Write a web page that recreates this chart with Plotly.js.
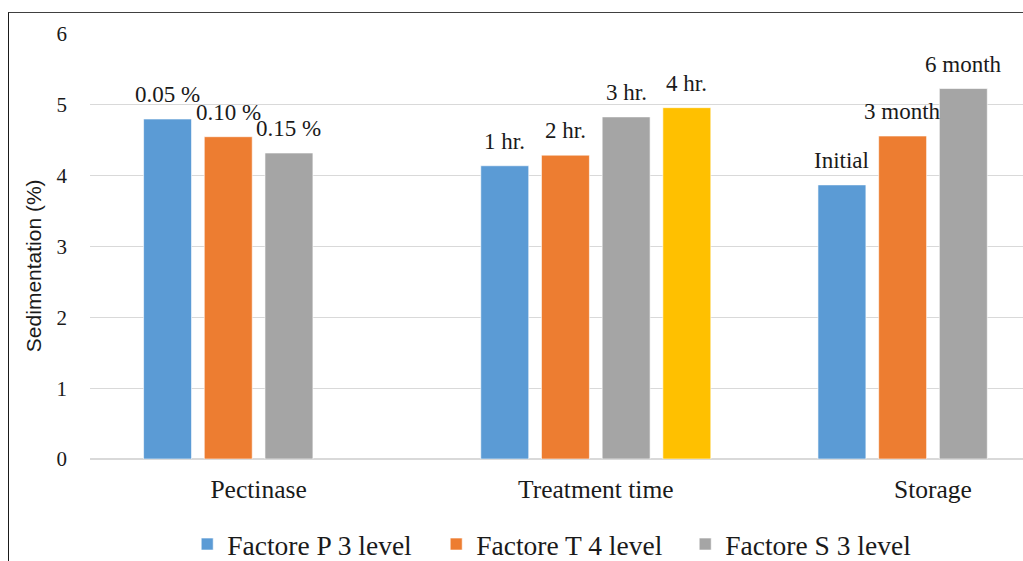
<!DOCTYPE html>
<html>
<head>
<meta charset="utf-8">
<script src="https://cdn.plot.ly/plotly-3.0.1.min.js"></script>
<style>
  html, body { margin: 0; padding: 0; background: #ffffff; }
  #wrap { position: relative; width: 1023px; height: 561px; overflow: hidden; }
  #chart { position: absolute; left: 0; top: 0; width: 1023px; height: 561px; }
  #frame { position: absolute; left: 8px; top: 12px; width: 1100px; height: 600px;
           border-left: 1.5px solid #1a1a1a; border-top: 1.5px solid #404040; pointer-events: none; }
</style>
</head>
<body>
<div id="wrap">
  <div id="chart"></div>
  <div id="frame"></div>
</div>
<script>
// Factor groups along the x axis
const categories = ["Pectinase", "Treatment time", "Storage"];

// Sedimentation (%) for each level position within a factor
const level1 = [4.80, 4.14, 3.87];
const level2 = [4.55, 4.29, 4.56];
const level3 = [4.32, 4.83, 5.23];
const level4 = [null, 4.96, null];

// Level names written above each bar
const label1 = ["0.05 %", "1 hr.", "Initial"];
const label2 = ["0.10 %", "2 hr.", "3 month"];
const label3 = ["0.15 %", "3 hr.", "6 month"];
const label4 = [null, "4 hr.", null];

const seriesNames = ["Factore P 3 level", "Factore T 4 level", "Factore S 3 level", "Factore T level 4"];
const colors = ["#5B9BD5", "#ED7D31", "#A5A5A5", "#FFC000"];

const values = [level1, level2, level3, level4];
const labels = [label1, label2, label3, label4];

const serif = "'Liberation Serif', 'Times New Roman', Times, serif";
const sans = "'Liberation Sans', Arial, sans-serif";

const bargap = 0.28;
const nSlots = 4;
const slotWidth = (1 - bargap) / nSlots;

const traces = values.map((v, k) => ({
  type: "bar",
  x: categories,
  y: v,
  name: seriesNames[k],
  showlegend: k < 3,
  marker: { color: colors[k], line: { color: "rgba(255,255,255,0.6)", width: 1 } },
  hoverinfo: "y"
}));

// Level captions placed above each bar
const annotations = [];
values.forEach((v, k) => {
  v.forEach((val, i) => {
    if (val === null || labels[k][i] === null) return;
    annotations.push({
      x: i + (k - (nSlots - 1) / 2) * slotWidth,
      y: val,
      xref: "x", yref: "y",
      text: labels[k][i],
      showarrow: false,
      xanchor: "center", yanchor: "bottom",
      yshift: 10,
      font: { family: serif, size: 23, color: "#1a1a1a" }
    });
  });
});

// Vertical value-axis caption
annotations.push({
  xref: "paper", yref: "paper",
  x: -0.061, y: 0.454,
  xanchor: "center", yanchor: "middle",
  text: "Sedimentation (%)",
  textangle: -90,
  showarrow: false,
  font: { family: sans, size: 21, color: "#1a1a1a" }
});

const layout = {
  width: 1023,
  height: 561,
  margin: { l: 90, r: 0, t: 34, b: 102 },
  font: { family: serif, color: "#1a1a1a" },
  paper_bgcolor: "rgba(0,0,0,0)",
  plot_bgcolor: "#ffffff",
  barmode: "group",
  bargap: bargap,
  bargroupgap: 0.21,
  showlegend: true,
  legend: {
    orientation: "h",
    xref: "container", yref: "container",
    x: 0.183, xanchor: "left",
    y: 0.03, yanchor: "middle",
    entrywidth: 204,
    font: { family: serif, size: 27.5, color: "#1a1a1a" },
    traceorder: "normal"
  },
  xaxis: {
    type: "category",
    range: [-0.5, 2.267],
    showgrid: false,
    zeroline: false,
    showline: false,
    ticks: "",
    ticklabelstandoff: 12,
    tickfont: { family: serif, size: 25.5, color: "#1a1a1a" },
    fixedrange: true
  },
  yaxis: {
    range: [0, 6],
    dtick: 1,
    tick0: 0,
    showgrid: true,
    gridcolor: "#d9d9d9",
    gridwidth: 1.3,
    zeroline: true,
    zerolinecolor: "#d9d9d9",
    zerolinewidth: 1.3,
    showline: false,
    ticks: "",
    ticklabelstandoff: 22,
    tickfont: { family: serif, size: 21, color: "#1a1a1a" },
    fixedrange: true
  },
  annotations: annotations
};

Plotly.newPlot("chart", traces, layout, { displayModeBar: false, staticPlot: true });
</script>
</body>
</html>
